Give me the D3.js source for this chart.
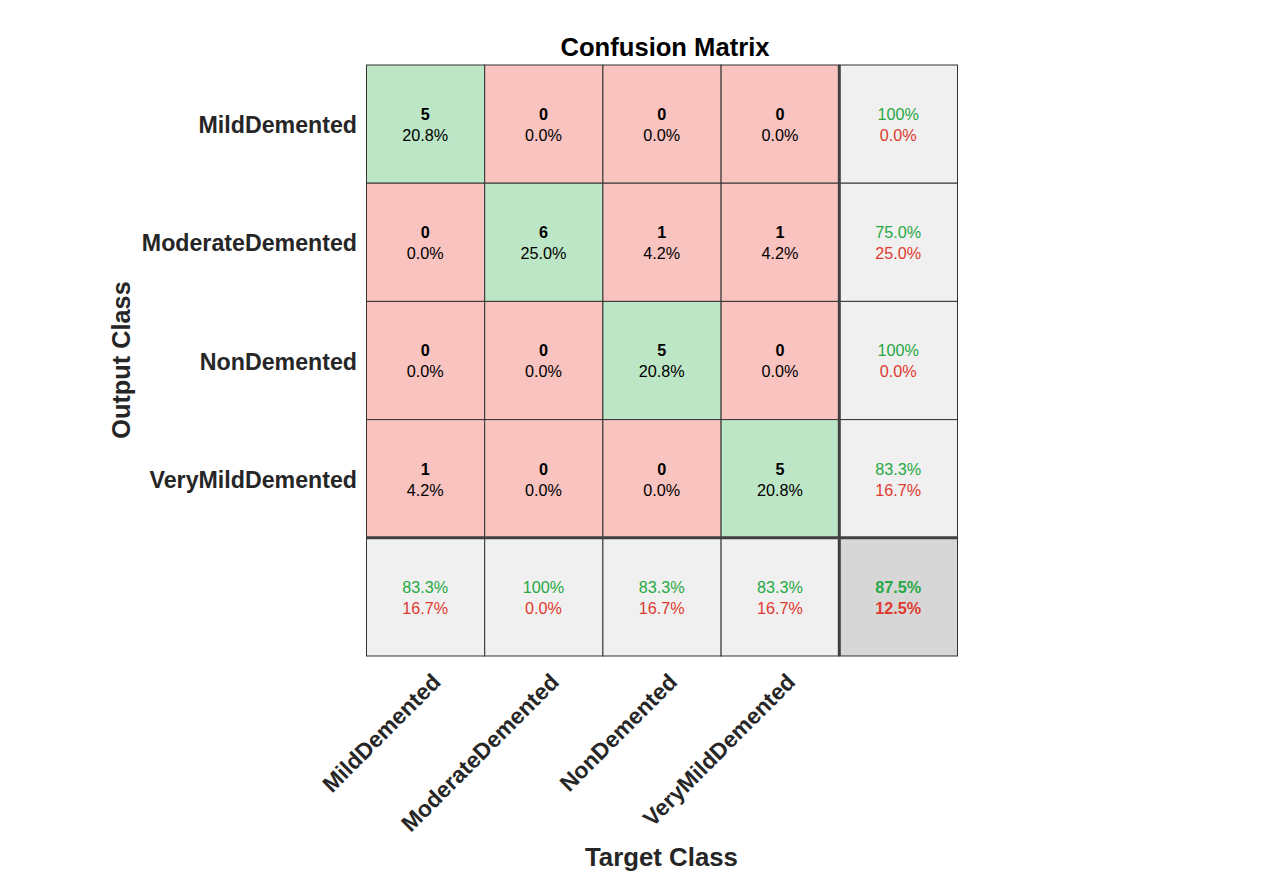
<!DOCTYPE html>
<html>
<head>
<meta charset="utf-8">
<title>Confusion Matrix</title>
<script src="https://cdn.jsdelivr.net/npm/d3@7"></script>
<style>
    body { margin: 0; background: #fff; }
    text { font-family: "Liberation Sans", Arial, sans-serif; }
</style>
</head>
<body>
<div id="chart"></div>
<script>
// class names, same order on both axes
const classes = ["MildDemented", "ModerateDemented", "NonDemented", "VeryMildDemented"];

// counts, row = output class, column = target class
const counts = [
    [5, 0, 0, 0],
    [0, 6, 1, 1],
    [0, 0, 5, 0],
    [1, 0, 0, 5]
];
const percents = [
    ["20.8%", "0.0%", "0.0%", "0.0%"],
    ["0.0%", "25.0%", "4.2%", "4.2%"],
    ["0.0%", "0.0%", "20.8%", "0.0%"],
    ["4.2%", "0.0%", "0.0%", "20.8%"]
];

// summary column on the right and row at the bottom
const rowCorrect = ["100%", "75.0%", "100%", "83.3%"];
const rowWrong = ["0.0%", "25.0%", "0.0%", "16.7%"];
const colCorrect = ["83.3%", "100%", "83.3%", "83.3%"];
const colWrong = ["16.7%", "0.0%", "16.7%", "16.7%"];
const totalCorrect = "87.5%";
const totalWrong = "12.5%";

const green = "#bde6c6";
const red = "#f9c3c0";
const grey = "#f0f0f0";
const darkGrey = "#d7d7d7";
const textGreen = "#27a844";
const textRed = "#de3a2f";
const labelColor = "#262626";

const width = 1280, height = 872;
const gridLeft = 366.5, gridRight = 957.5, gridTop = 65, gridBottom = 656;

const svg = d3.select("#chart").append("svg")
    .attr("width", width)
    .attr("height", height)
    .style("display", "block");

// one extra band for the summary row/column
const bandKeys = classes.concat(["summary"]);
const x = d3.scaleBand().domain(bandKeys).range([gridLeft, gridRight]);
const y = d3.scaleBand().domain(bandKeys).range([gridTop, gridBottom]);

// flatten everything into cell records
const cells = [];
classes.forEach((rowName, r) => {
    classes.forEach((colName, c) => {
        cells.push({
            col: colName, row: rowName, fill: r === c ? green : red,
            top: counts[r][c], bottom: percents[r][c],
            topColor: "#000", bottomColor: "#000", topBold: true, bottomBold: false
        });
    });
    cells.push({
        col: "summary", row: rowName, fill: grey,
        top: rowCorrect[r], bottom: rowWrong[r],
        topColor: textGreen, bottomColor: textRed, topBold: false, bottomBold: false
    });
});
classes.forEach((colName, c) => {
    cells.push({
        col: colName, row: "summary", fill: grey,
        top: colCorrect[c], bottom: colWrong[c],
        topColor: textGreen, bottomColor: textRed, topBold: false, bottomBold: false
    });
});
cells.push({
    col: "summary", row: "summary", fill: darkGrey,
    top: totalCorrect, bottom: totalWrong,
    topColor: textGreen, bottomColor: textRed, topBold: true, bottomBold: true
});

const cell = svg.selectAll("g.cell")
    .data(cells)
    .join("g")
    .attr("class", "cell")
    .attr("transform", d => `translate(${x(d.col)},${y(d.row)})`);

cell.append("rect")
    .attr("width", x.bandwidth())
    .attr("height", y.bandwidth())
    .attr("fill", d => d.fill)
    .attr("stroke", "#333")
    .attr("stroke-width", 1);

cell.append("text")
    .attr("x", x.bandwidth() / 2 - 0.3)
    .attr("y", y.bandwidth() / 2 - 4)
    .attr("text-anchor", "middle")
    .attr("font-size", 16.2)
    .attr("font-weight", d => d.topBold ? "bold" : "normal")
    .attr("fill", d => d.topColor)
    .text(d => d.top);

cell.append("text")
    .attr("x", x.bandwidth() / 2 - 0.3)
    .attr("y", y.bandwidth() / 2 + 17)
    .attr("text-anchor", "middle")
    .attr("font-size", 16.2)
    .attr("font-weight", d => d.bottomBold ? "bold" : "normal")
    .attr("fill", d => d.bottomColor)
    .text(d => d.bottom);

// heavy dividers in front of the summary row and column
svg.append("line")
    .attr("x1", x("summary")).attr("x2", x("summary"))
    .attr("y1", gridTop).attr("y2", gridBottom)
    .attr("stroke", "#404040").attr("stroke-width", 3);
svg.append("line")
    .attr("x1", gridLeft).attr("x2", gridRight)
    .attr("y1", y("summary")).attr("y2", y("summary"))
    .attr("stroke", "#404040").attr("stroke-width", 3);

// row labels
svg.selectAll("text.row-label")
    .data(classes)
    .join("text")
    .attr("class", "row-label")
    .attr("x", 357)
    .attr("y", d => y(d) + y.bandwidth() / 2 + 9)
    .attr("text-anchor", "end")
    .attr("font-size", 23.2)
    .attr("font-weight", "bold")
    .attr("fill", labelColor)
    .text(d => d);

// column labels, rotated 45 degrees, ending under the cell centre
svg.selectAll("text.col-label")
    .data(classes)
    .join("text")
    .attr("class", "col-label")
    .attr("text-anchor", "end")
    .attr("font-size", 22.8)
    .attr("font-weight", "bold")
    .attr("fill", labelColor)
    .attr("transform", d => `translate(${x(d) + x.bandwidth() / 2 + 16.5},${gridBottom + 27.5}) rotate(-45)`)
    .text(d => d);

svg.append("text")
    .attr("x", (gridLeft + gridRight) / 2 + 3)
    .attr("y", 56)
    .attr("text-anchor", "middle")
    .attr("font-size", 25.6)
    .attr("font-weight", "bold")
    .attr("fill", "#000")
    .text("Confusion Matrix");

svg.append("text")
    .attr("x", 661.5)
    .attr("y", 866)
    .attr("text-anchor", "middle")
    .attr("font-size", 25.8)
    .attr("font-weight", "bold")
    .attr("fill", labelColor)
    .text("Target Class");

svg.append("text")
    .attr("transform", "translate(130,360) rotate(-90)")
    .attr("text-anchor", "middle")
    .attr("font-size", 25.3)
    .attr("font-weight", "bold")
    .attr("fill", labelColor)
    .text("Output Class");
</script>
</body>
</html>
